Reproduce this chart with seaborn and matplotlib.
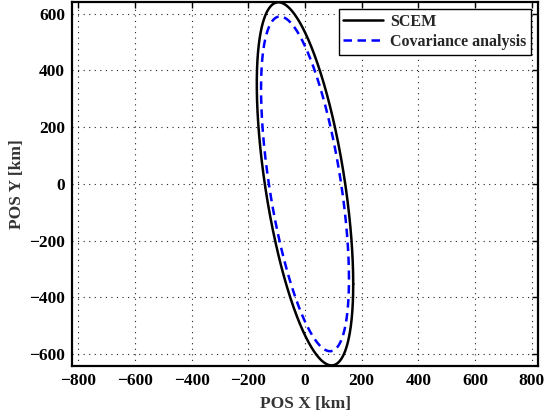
import numpy as np
import pandas as pd
import matplotlib
matplotlib.use("Agg")
import matplotlib.pyplot as plt
import seaborn as sns

# Ellipse parameters (km, km^2)
series_names = ["SCEM", "Covariance analysis"]
sigma_x = [170.0, 155.0]        # max x-extent
sigma_y = [640.0, 590.0]        # max y-extent
cov_xy = [-60000.0, -52000.0]   # cross term
line_colors = ["black", "blue"]

x_ticks = [-800, -600, -400, -200, 0, 200, 400, 600, 800]
y_ticks = [-600, -400, -200, 0, 200, 400, 600]

sns.set_style("white")
plt.rcParams["font.family"] = ["Liberation Serif", "DejaVu Serif"]
plt.rcParams["font.weight"] = "bold"

t = np.linspace(0, 2 * np.pi, 721)
frames = []
for name, sx, sy, sxy in zip(series_names, sigma_x, sigma_y, cov_xy):
    M = np.array([[sx ** 2, sxy], [sxy, sy ** 2]])
    L = np.linalg.cholesky(M)
    pts = L @ np.vstack([np.cos(t), np.sin(t)])
    frames.append(pd.DataFrame({"x": pts[0], "y": pts[1], "series": name,
                                "order": np.arange(len(t))}))
df = pd.concat(frames, ignore_index=True)

fig = plt.figure(figsize=(5.44, 4.19), dpi=100)
ax = fig.add_axes([72 / 544, 1 - 365.7 / 419, (538 - 72) / 544, (365.7 - 2) / 419])

sns.lineplot(data=df[df.series == series_names[0]], x="x", y="y", sort=False,
             estimator=None, color=line_colors[0], lw=1.8, label=series_names[0], ax=ax)
sns.lineplot(data=df[df.series == series_names[1]], x="x", y="y", sort=False,
             estimator=None, color=line_colors[1], lw=1.8,
             label=series_names[1], ax=ax)
ax.lines[1].set_dashes((3.4, 2.2))

ax.set_xlim(-821.6, 821.6)
ax.set_ylim(-641, 641)
ax.set_xticks(x_ticks)
ax.set_yticks(y_ticks)
ax.set_xticklabels([f"{v}".replace("-", "\u2212") for v in x_ticks])
ax.set_yticklabels([f"{v}".replace("-", "\u2212") for v in y_ticks])

ax.grid(True, color="#222222", linestyle=(0, (1, 4)), lw=0.8)
ax.tick_params(direction="in", length=4, width=1, top=True, right=True,
               labelsize=12.5, pad=5, colors="black")
for lab in ax.get_xticklabels() + ax.get_yticklabels():
    lab.set_fontweight("bold")
for sp in ax.spines.values():
    sp.set_linewidth(1.6)
    sp.set_color("black")

ax.set_xlabel("POS X [km]", fontsize=12.5, fontweight="bold", color="#333333", labelpad=5)
ax.set_ylabel("POS Y [km]", fontsize=12.5, fontweight="bold", color="#333333", labelpad=3)

leg = ax.legend(loc="upper right", fontsize=11.5, frameon=True, fancybox=False,
                handlelength=2.5, borderpad=0.3, labelspacing=0.25,
                handletextpad=0.4, borderaxespad=0.45)
leg.get_frame().set_edgecolor("black")
leg.get_frame().set_linewidth(1.0)
leg.get_frame().set_alpha(1)
for txt in leg.get_texts():
    txt.set_fontweight("bold")

fig.savefig("out.png", dpi=100)
